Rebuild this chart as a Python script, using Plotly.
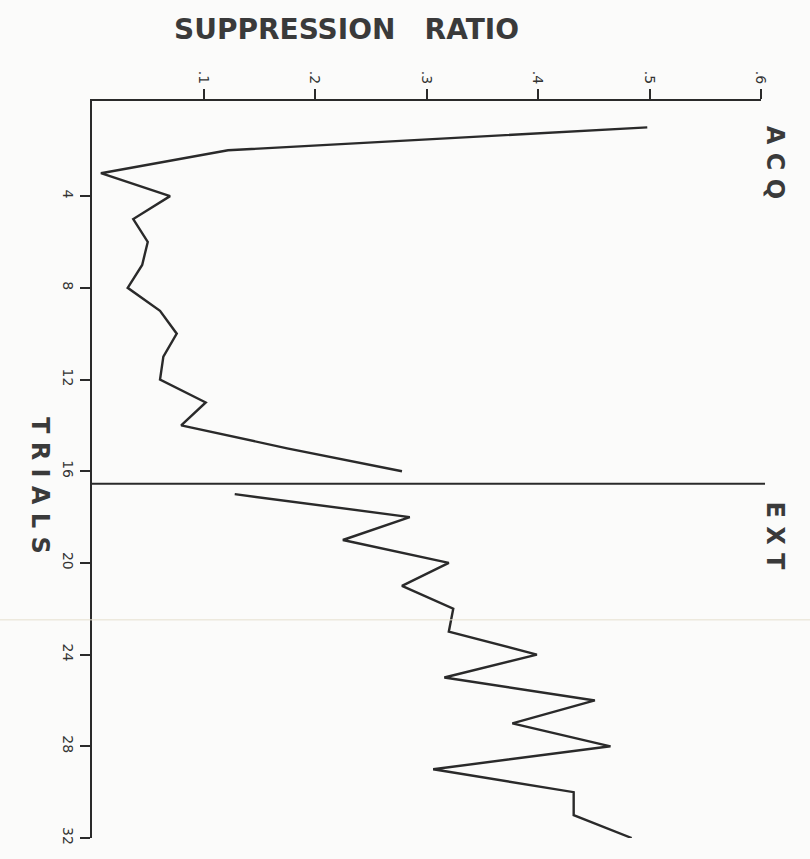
import plotly.graph_objects as go

# Data
acq_trials = list(range(1, 17))
acq_ratio = [0.498, 0.122, 0.008, 0.070, 0.037, 0.050, 0.045, 0.032,
             0.061, 0.076, 0.064, 0.061, 0.102, 0.080, 0.175, 0.278]
ext_trials = list(range(17, 33))
ext_ratio = [0.128, 0.285, 0.225, 0.320, 0.278, 0.324, 0.320, 0.399,
             0.316, 0.451, 0.377, 0.465, 0.306, 0.432, 0.432, 0.484]

x_tickvals = [0.1, 0.2, 0.3, 0.4, 0.5, 0.6]
x_ticktext = [".1", ".2", ".3", ".4", ".5", ".6"]
y_tickvals = [4, 8, 12, 16, 20, 24, 28, 32]
y_ticktext = ["4", "8", "12", "16", "20", "24", "28", "32"]
phase_boundary = 16.55

ink = "#2a2a2a"
fig = go.Figure()
fig.add_trace(go.Scatter(x=acq_ratio, y=acq_trials, mode="lines",
                         line=dict(color=ink, width=2.4), showlegend=False))
fig.add_trace(go.Scatter(x=ext_ratio, y=ext_trials, mode="lines",
                         line=dict(color=ink, width=2.4), showlegend=False))

# phase divider
fig.add_shape(type="line", xref="paper", yref="y", x0=0, x1=1.006,
              y0=phase_boundary, y1=phase_boundary,
              line=dict(color=ink, width=2))
# faint scan line
fig.add_shape(type="line", xref="paper", yref="paper", x0=-0.14, x1=1.08,
              y0=0.296, y1=0.296, line=dict(color="#e6dfcf", width=1))

tickfont = dict(family="DejaVu Sans", size=14, color="#333")
fig.update_layout(
    width=810, height=859,
    margin=dict(l=92, r=49, t=101, b=21),
    paper_bgcolor="#fbfbfa", plot_bgcolor="#fbfbfa",
    xaxis=dict(range=[0, 0.6], side="top", showline=True, linecolor=ink,
               linewidth=2, ticks="outside", ticklen=10, tickwidth=2,
               tickcolor=ink, tickvals=x_tickvals, ticktext=x_ticktext,
               tickangle=90, tickfont=tickfont, showgrid=False,
               zeroline=False, mirror=False),
    yaxis=dict(range=[32, -0.15], showline=True, linecolor=ink, linewidth=2,
               ticks="outside", ticklen=10, tickwidth=2, tickcolor=ink,
               tickvals=y_tickvals, ticktext=y_ticktext, tickangle=90,
               tickfont=tickfont, showgrid=False, zeroline=False),
)

titlefont = dict(family="DejaVu Sans", size=24, color="#3a3a3a")
fig.add_annotation(text="<b>SUPPRESSION   RATIO</b>", xref="paper", yref="paper",
                   x=0.38, y=1.0, yshift=72, showarrow=False,
                   font=dict(family="DejaVu Sans", size=28, color="#3a3a3a"),
                   xanchor="center", yanchor="middle")
fig.add_annotation(text="<b>A C Q</b>", xref="paper", yref="y", x=1.0,
                   xshift=14, y=2.5, textangle=90, showarrow=False,
                   font=titlefont, xanchor="center", yanchor="middle")
fig.add_annotation(text="<b>E X T</b>", xref="paper", yref="y", x=1.0,
                   xshift=14, y=18.8, textangle=90, showarrow=False,
                   font=titlefont, xanchor="center", yanchor="middle")
fig.add_annotation(text="<b>T R I A L S</b>", xref="paper", yref="y", x=0,
                   xshift=-52, y=16.6, textangle=90, showarrow=False,
                   font=titlefont, xanchor="center", yanchor="middle")

fig.write_html("out.html")
